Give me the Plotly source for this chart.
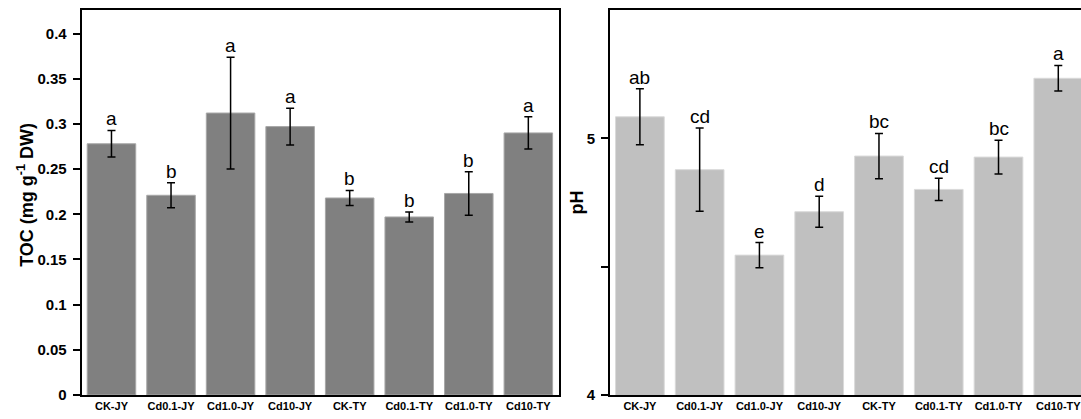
import plotly.graph_objects as go

categories = ["CK-JY", "Cd0.1-JY", "Cd1.0-JY", "Cd10-JY", "CK-TY", "Cd0.1-TY", "Cd1.0-TY", "Cd10-TY"]
toc_values = [0.278, 0.221, 0.312, 0.297, 0.218, 0.197, 0.223, 0.290]
toc_errors = [0.0147, 0.0138, 0.0618, 0.0203, 0.0083, 0.0055, 0.024, 0.0179]
toc_letters = ["a", "b", "a", "a", "b", "b", "b", "a"]
ph_values = [5.084, 4.878, 4.545, 4.714, 4.931, 4.801, 4.927, 5.234]
ph_errors = [0.109, 0.162, 0.049, 0.060, 0.088, 0.043, 0.066, 0.050]
ph_letters = ["ab", "cd", "e", "d", "bc", "cd", "bc", "a"]
toc_ticks = [0, 0.05, 0.1, 0.15, 0.2, 0.25, 0.3, 0.35, 0.4]
toc_ticktext = ["0", "0.05", "0.1", "0.15", "0.2", "0.25", "0.3", "0.35", "0.4"]
ph_ticks = [4, 5]
ph_ticktext = ["4", "5"]
ph_minor_ticks = [4.5]

FONT = "Liberation Sans, Arial, sans-serif"
W, H = 1081, 419

fig = go.Figure()
fig.add_trace(go.Bar(
    x=categories, y=toc_values, xaxis="x", yaxis="y",
    marker=dict(color="#808080", line=dict(color="#a8a8a8", width=1)),
    error_y=dict(type="data", array=toc_errors, color="black", thickness=1.5, width=4),
    showlegend=False))
fig.add_trace(go.Bar(
    x=categories, y=ph_values, xaxis="x2", yaxis="y2",
    marker=dict(color="#c0c0c0", line=dict(color="#dadada", width=1)),
    error_y=dict(type="data", array=ph_errors, color="black", thickness=1.5, width=4),
    showlegend=False))

annotations = []
for c, v, e, t in zip(categories, toc_values, toc_errors, toc_letters):
    annotations.append(dict(x=c, y=v + e, xref="x", yref="y", text=t, showarrow=False,
                            yanchor="bottom", yshift=-1, font=dict(family=FONT, size=19, color="black")))
for c, v, e, t in zip(categories, ph_values, ph_errors, ph_letters):
    annotations.append(dict(x=c, y=v + e, xref="x2", yref="y2", text=t, showarrow=False,
                            yanchor="bottom", yshift=-1, font=dict(family=FONT, size=19, color="black")))
annotations.append(dict(x=26 / W, y=0.52, xref="paper", yref="paper", textangle=-90,
                        xanchor="center", yanchor="middle",
                        text="<b>TOC (mg g<sup>-1</sup> DW)</b>", showarrow=False,
                        font=dict(family=FONT, size=18, color="black")))
annotations.append(dict(x=576 / W, y=0.5, xref="paper", yref="paper", textangle=-90,
                        xanchor="center", yanchor="middle",
                        text="<b>pH</b>", showarrow=False,
                        font=dict(family=FONT, size=18, color="black")))

axis_common = dict(showline=True, linecolor="black", linewidth=2, showgrid=False, zeroline=False)
tickfont_y = dict(family=FONT, size=15, color="black", weight="bold")
tickfont_x = dict(family=FONT, size=11, color="black", weight="bold")

fig.update_layout(
    width=W, height=H,
    margin=dict(l=0, r=0, t=10, b=24),
    paper_bgcolor="white", plot_bgcolor="white",
    bargap=0.185,
    annotations=annotations,
    xaxis=dict(domain=[81.7 / W, 559.3 / W], range=[-0.5, 7.52], anchor="y", mirror=True,
               ticks="", tickfont=tickfont_x, **axis_common),
    yaxis=dict(domain=[0, 1], range=[0, 0.426], anchor="x", mirror=True,
               tickvals=toc_ticks, ticktext=toc_ticktext, ticks="outside", ticklen=7,
               ticklabelstandoff=3,
               tickwidth=1.5, tickcolor="black", tickfont=tickfont_y, **axis_common),
    xaxis2=dict(domain=[610 / W, 1.0], range=[-0.5, 7.38], anchor="y2", mirror=True,
                ticks="", tickfont=tickfont_x, **axis_common),
    yaxis2=dict(domain=[0, 1], range=[4, 5.5], anchor="x2", mirror=False,
                tickvals=ph_ticks, ticktext=ph_ticktext, ticks="outside", ticklen=7,
                ticklabelstandoff=3,
                tickwidth=1.5, tickcolor="black", tickfont=tickfont_y,
                minor=dict(tickvals=ph_minor_ticks, ticks="outside", ticklen=7,
                           tickwidth=1.5, tickcolor="black"),
                **axis_common),
)

fig.write_html("out.html", config={"displayModeBar": False},
               post_script="document.body.style.margin='0';")
